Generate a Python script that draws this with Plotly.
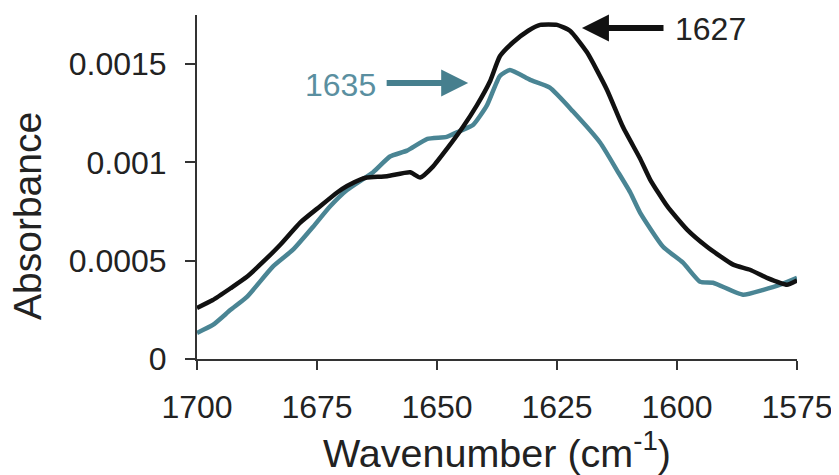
import plotly.graph_objects as go

# Wavenumber (cm-1) and absorbance
black_x = [1700, 1696.7, 1693, 1689.6, 1686.2, 1682.7, 1678.5, 1674.4, 1670.8, 1668.75,
           1666, 1664.6, 1660.4, 1655.6, 1653.5, 1650.8, 1647.9, 1644.6, 1641.7, 1639,
           1636.9, 1634.2, 1631, 1628.5, 1625, 1622.3, 1618.75, 1614.6, 1611.25, 1607.7,
           1605.6, 1602, 1597.9, 1593.75, 1588.3, 1584.8, 1581.25, 1577.1, 1575]
black_y = [0.00026, 0.0003, 0.00036, 0.000418, 0.000495, 0.00058, 0.000694, 0.000776, 0.000847, 0.00088,
           0.000913, 0.000923, 0.00093, 0.00095, 0.000923, 0.00098, 0.00107, 0.00118, 0.00129, 0.00141,
           0.00154, 0.00161, 0.00167, 0.0017, 0.0017, 0.00167, 0.00156, 0.00137, 0.00118, 0.00102,
           0.000913, 0.000776, 0.000658, 0.000571, 0.00048, 0.000454, 0.000413, 0.000378, 0.0004]

teal_x = [1700, 1696.7, 1693, 1689.6, 1684.2, 1680, 1675.8, 1672.3, 1668.75, 1663.3,
          1659.8, 1656.25, 1652, 1648, 1645.2, 1642.5, 1639.6, 1636.9, 1634.8, 1630.6,
          1626.5, 1621.7, 1616, 1612.5, 1609.8, 1607.7, 1602.9, 1598.75, 1595.2, 1592.5,
          1586.25, 1582, 1578.5, 1575]
teal_y = [0.000133, 0.000173, 0.00025, 0.000316, 0.00047, 0.000556, 0.000673, 0.000776, 0.00086, 0.00095,
          0.00103, 0.00106, 0.00112, 0.00113, 0.00116, 0.00119, 0.00129, 0.00144, 0.00147, 0.00142,
          0.00138, 0.00126, 0.0011, 0.00096, 0.00085, 0.000745, 0.000571, 0.00049, 0.000393, 0.000388,
          0.000327, 0.000352, 0.000378, 0.000413]

x_ticks = [1700, 1675, 1650, 1625, 1600, 1575]
y_ticks = [0, 0.0005, 0.001, 0.0015]
y_tick_labels = ["0", "0.0005", "0.001", "0.0015"]

peak_teal = 1635
peak_black = 1627

TEAL = "#4a8594"
FONT = "Liberation Sans, Arial, sans-serif"
TXT = "#222222"

fig = go.Figure()
fig.add_trace(go.Scatter(x=teal_x, y=teal_y, mode="lines",
                         line=dict(color=TEAL, width=4.5, shape="spline", smoothing=0.5),
                         showlegend=False))
fig.add_trace(go.Scatter(x=black_x, y=black_y, mode="lines",
                         line=dict(color="#111111", width=4.5, shape="spline", smoothing=0.5),
                         showlegend=False))

# Arrows
fig.add_annotation(x=1643.5, y=0.001404, ax=1660.8, ay=0.001404, axref="x", ayref="y",
                   text="", showarrow=True, arrowhead=2, arrowsize=0.9, arrowwidth=6,
                   arrowcolor="#467f8e")
fig.add_annotation(x=1670.2, y=0.001395, text=str(peak_teal), showarrow=False,
                   font=dict(family=FONT, size=32, color="#5a8fa0"))
fig.add_annotation(x=1619.8, y=0.001684, ax=1602.5, ay=0.001684, axref="x", ayref="y",
                   text="", showarrow=True, arrowhead=2, arrowsize=0.9, arrowwidth=6,
                   arrowcolor="#111111")
fig.add_annotation(x=1593.1, y=0.001679, text=str(peak_black), showarrow=False,
                   font=dict(family=FONT, size=32, color=TXT))

# Y axis title (placed as rotated text, lower than centre as in the reference)
fig.add_annotation(xref="paper", yref="paper", x=-0.2817, y=0.4157, text="Absorbance",
                   textangle=-90, showarrow=False, xanchor="center", yanchor="middle",
                   font=dict(family=FONT, size=39, color=TXT))

fig.update_layout(
    width=831, height=467,
    margin=dict(l=189, r=42, t=7, b=116),
    paper_bgcolor="white", plot_bgcolor="white",
    font=dict(family=FONT, color=TXT),
)
fig.update_xaxes(range=[1700, 1575], tickvals=x_ticks, ticktext=[str(v) for v in x_ticks],
                 automargin=False,
                 showgrid=False, zeroline=False, showline=True, linecolor="#333333", linewidth=2,
                 ticks="outside", ticklen=9, tickwidth=2, tickcolor="#333333",
                 ticklabelstandoff=10,
                 tickfont=dict(size=32, family=FONT, color=TXT),
                 title=dict(text="Wavenumber (cm<sup>-1</sup>)", font=dict(size=39.5, family=FONT, color=TXT),
                            standoff=1))
fig.update_yaxes(range=[0, 0.00175], tickvals=y_ticks, ticktext=y_tick_labels,
                 automargin=False,
                 showgrid=False, zeroline=False, showline=True, linecolor="#333333", linewidth=2,
                 ticks="outside", ticklen=10, tickwidth=2, tickcolor="#333333",
                 ticklabelstandoff=12,
                 tickfont=dict(size=32, family=FONT, color=TXT))

fig.write_html("out.html")
